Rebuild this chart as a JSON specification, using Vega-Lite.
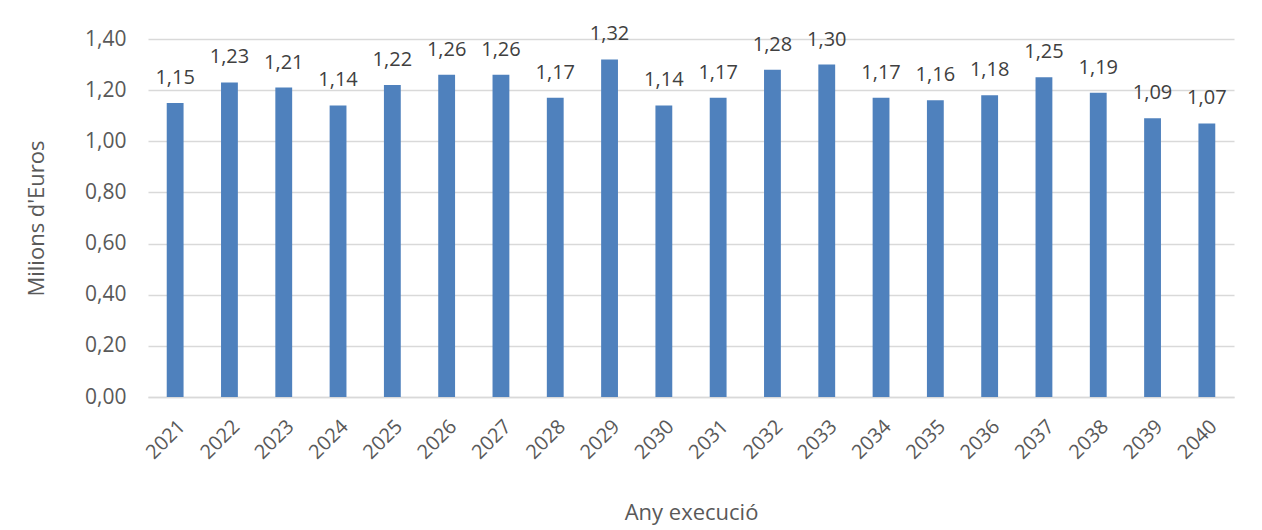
{
  "$schema": "https://vega.github.io/schema/vega-lite/v6.json",
  "autosize": "none",
  "width": 1086,
  "height": 358,
  "padding": {"left": 148, "top": 39, "right": 28, "bottom": 133},
  "background": "white",
  "config": {
    "locale": {"number": {"decimal": ",", "thousands": ".", "grouping": [3], "currency": ["", " €"]}},
    "view": {"stroke": null},
    "font": "Open Sans"
  },
  "data": {"values": [
    {"year": "2021", "value": 1.15},
    {"year": "2022", "value": 1.23},
    {"year": "2023", "value": 1.21},
    {"year": "2024", "value": 1.14},
    {"year": "2025", "value": 1.22},
    {"year": "2026", "value": 1.26},
    {"year": "2027", "value": 1.26},
    {"year": "2028", "value": 1.17},
    {"year": "2029", "value": 1.32},
    {"year": "2030", "value": 1.14},
    {"year": "2031", "value": 1.17},
    {"year": "2032", "value": 1.28},
    {"year": "2033", "value": 1.30},
    {"year": "2034", "value": 1.17},
    {"year": "2035", "value": 1.16},
    {"year": "2036", "value": 1.18},
    {"year": "2037", "value": 1.25},
    {"year": "2038", "value": 1.19},
    {"year": "2039", "value": 1.09},
    {"year": "2040", "value": 1.07}
  ]},
  "encoding": {
    "x": {
      "field": "year", "type": "nominal",
      "scale": {"paddingInner": 0.69, "paddingOuter": 0.345},
      "axis": {
        "title": "Any execució", "titleFont": "Open Sans", "titleFontSize": 22, "titleFontWeight": "normal", "titleColor": "#595959", "titlePadding": 40,
        "labelAngle": -45, "labelFontSize": 20, "labelColor": "#595959", "labelPadding": 19,
        "ticks": false, "domainColor": "#d9d9d9", "domainWidth": 1.5, "grid": false
      }
    },
    "y": {
      "field": "value", "type": "quantitative",
      "scale": {"domain": [0, 1.4]},
      "axis": {
        "title": "Milions d'Euros", "titleFont": "Open Sans", "titleFontSize": 22, "titleFontWeight": "normal", "titleColor": "#595959", "titlePadding": 36,
        "values": [0, 0.2, 0.4, 0.6, 0.8, 1.0, 1.2, 1.4], "format": ".2f",
        "labelFontSize": 21, "labelColor": "#595959", "labelPadding": 22,
        "ticks": false, "domain": false, "gridColor": "#d9d9d9", "gridWidth": 1.5
      }
    }
  },
  "layer": [
    {"mark": {"type": "bar", "color": "#4f81bd"}},
    {"mark": {"type": "text", "baseline": "alphabetic", "dy": -19, "fontSize": 20, "color": "#404040"},
     "encoding": {"text": {"field": "value", "type": "quantitative", "format": ".2f"}}}
  ]
}
